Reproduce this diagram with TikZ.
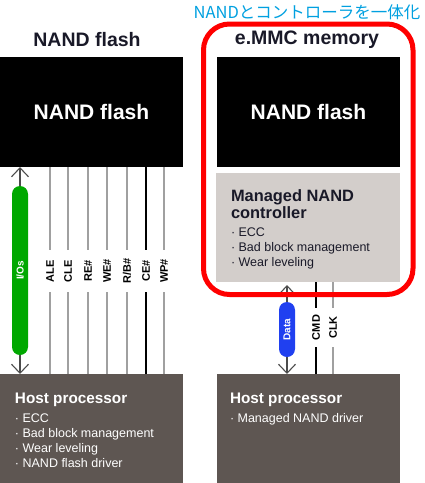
\documentclass[tikz,border=0pt]{standalone}
\usepackage{fontspec}
\setmainfont{Liberation Sans}
\newfontfamily\jpfont{Noto Sans CJK JP}
\usetikzlibrary{arrows.meta,positioning}

\definecolor{hostgray}{RGB}{94,86,82}
\definecolor{ctrlgray}{RGB}{211,206,203}
\definecolor{iogreen}{RGB}{0,168,0}
\definecolor{datablue}{RGB}{32,64,240}
\definecolor{jpcyan}{RGB}{0,160,224}
\definecolor{linegray}{RGB}{160,160,160}
\definecolor{inkdark}{RGB}{25,25,40}

\begin{document}
\begin{tikzpicture}[x=1pt, y=1pt,
  every node/.style={inner sep=0pt, outer sep=0pt},
  chipbox/.style={rectangle, fill=black, minimum width=183pt, minimum height=110pt,
    text=white, font=\bfseries\fontsize{21}{24}\selectfont},
  hostbox/.style={rectangle, fill=hostgray, minimum width=183pt, minimum height=109pt},
  boxhead/.style={anchor=north west, align=left, font=\bfseries\fontsize{15.3}{17}\selectfont},
  boxlist/.style={anchor=north west, align=left, font=\fontsize{12.5}{15}\selectfont},
  coltitle/.style={font=\bfseries\fontsize{19.5}{22}\selectfont, text=inkdark},
  siglabel/.style={rotate=90, font=\bfseries\fontsize{11}{13}\selectfont},
  busbar/.style={rectangle, rounded corners=8pt, rotate=90, minimum height=16pt,
    text=white, font=\bfseries\fontsize{10}{12}\selectfont},
  busarrow/.style={{Straight Barb[width=17pt,length=9pt]}-{Straight Barb[width=17pt,length=9pt]},
    draw=black!70, line width=1.1pt}
]
\useasboundingbox (0,0) rectangle (424,-483);

% column titles
\node[font=\jpfont\fontsize{16.5}{18}\selectfont, text=jpcyan] (jp) at (307,-12) {NANDとコントローラを一体化};
\node[coltitle] (titleL) at (87,-40) {NAND flash};
\node[coltitle] (titleR) at (307,-40) {e.MMC memory};

% chips and hosts
\node[chipbox] (nandL) at (91.5,-112) {NAND flash};
\node[chipbox] (nandR) at (308.5,-112) {NAND flash};
\node[rectangle, fill=ctrlgray, minimum width=184pt, minimum height=109pt] (ctrl) at (308,-227.5) {};
\node[hostbox] (hostL) at (91.5,-428.5) {};
\node[hostbox] (hostR) at (308.5,-428.5) {};

% box texts
\node[boxhead, text=inkdark, font=\bfseries\fontsize{16.4}{17}\selectfont] (ctrlhead) at (231,-189.5) {Managed NAND\\controller};
\node[boxlist, text=inkdark, below=9pt of ctrlhead.south west, anchor=north west] (ctrllist)
  {· ECC\\· Bad block management\\· Wear leveling};
\node[boxhead, text=white] (hostLhead) at (15,-393) {Host processor};
\node[boxlist, text=white, below=7pt of hostLhead.south west, anchor=north west] (hostLlist)
  {· ECC\\· Bad block management\\· Wear leveling\\· NAND flash driver};
\node[boxhead, text=white] (hostRhead) at (230,-393) {Host processor};
\node[boxlist, text=white, below=7pt of hostRhead.south west, anchor=north west] (hostRlist)
  {· Managed NAND driver};

% raw NAND signals
\foreach \x/\lab/\col in {50/ALE/linegray, 68/CLE/linegray, 88/RE\#/linegray, 107/WE\#/linegray,
    127/{R/B\#}/linegray, 146/CE\#/black, 164/WP\#/linegray}{
  \node[siglabel, minimum width=42pt] (s\x) at (\x,-271) {\lab};
  \draw[\col, line width=1.1pt] (nandL.south -| s\x) -- (s\x.east);
  \draw[\col, line width=1.1pt] (s\x.west) -- (hostL.north -| s\x);
}
\coordinate (ioc) at (20,-270.5);
\draw[busarrow] (nandL.south -| ioc) -- (hostL.north -| ioc);
\node[busbar, fill=iogreen, minimum width=169pt] (ios) at (ioc) {I/Os};

% e.MMC signals
\foreach \x/\lab/\col in {316/CMD/black, 333/CLK/linegray}{
  \node[siglabel, minimum width=39pt] (m\x) at (\x,-327.5) {\lab};
  \draw[\col, line width=1.1pt] (ctrl.south -| m\x) -- (m\x.east);
  \draw[\col, line width=1.1pt] (m\x.west) -- (hostR.north -| m\x);
}
\coordinate (datac) at (287,-329.5);
\draw[busarrow, shorten <=3pt] (ctrl.south -| datac) -- (hostR.north -| datac);
\node[busbar, fill=datablue, minimum width=55pt] (data) at (datac) {Data};

% e.MMC package outline
\draw[red, line width=5pt, rounded corners=26pt] (203.5,-24) rectangle (413,-294.5);
\end{tikzpicture}
\end{document}
